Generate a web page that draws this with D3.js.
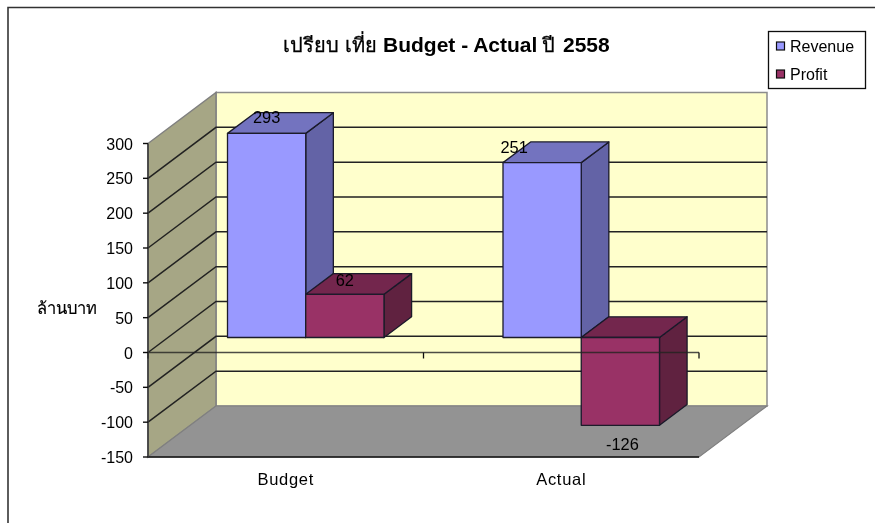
<!DOCTYPE html>
<html>
<head>
<meta charset="utf-8">
<script src="https://cdn.jsdelivr.net/npm/d3@7"></script>
<style>
  html, body { margin: 0; background: #fff; }
  text { font-family: "Liberation Sans", Arial, "Noto Sans", sans-serif; fill: #000; }
</style>
</head>
<body>
<div id="chart"></div>
<script>
const categories = ["Budget", "Actual"];
const seriesNames = ["Revenue", "Profit"];
const revenue = [293, 251];
const profit = [62, -126];
const yTicks = [300, 250, 200, 150, 100, 50, 0, -50, -100, -150];
const titleThaiA = "เปรียบ เที่ย";
const titleLatin = "Budget - Actual";
const titleThaiB = "ปี";
const titleYear = "2558";
const yAxisLabel = "ล้านบาท";

const width = 875, height = 523;

const svg = d3.select("#chart").append("svg")
  .attr("width", width)
  .attr("height", height)
  .style("display", "block");

// picture is a bit soft in the reference
const defs = svg.append("defs");
defs.append("filter").attr("id", "soft")
  .append("feGaussianBlur").attr("stdDeviation", 0.35);

const root = svg.append("g").attr("filter", "url(#soft)");

// Chart frame (only top and left show)
root.append("path")
  .attr("d", "M8,523V7.5H875")
  .attr("fill", "none")
  .attr("stroke", "#333")
  .attr("stroke-width", 1.6);

// Plot box, 3D oblique projection
const x = d3.scaleBand().domain(categories).range([148, 699]).paddingInner(0.432).paddingOuter(0.216);
const xSeries = d3.scaleBand().domain(seriesNames).range([0, x.bandwidth()]);
const y = d3.scaleLinear().domain([-150, 300]).range([457, 143.5]);

const depthX = 68, depthY = 51;
const project = (px, py, d) => [px + d * depthX, py - d * depthY];
const poly = pts => "M" + pts.map(p => p.join(",")).join("L") + "Z";

const x0 = x.range()[0], x1 = x.range()[1];

// walls and floor
root.append("path")
  .attr("d", poly([project(x0, y(300), 1), project(x1, y(300), 1), project(x1, y(-150), 1), project(x0, y(-150), 1)]))
  .attr("fill", "#ffffcc").attr("stroke", "#8c8c8c").attr("stroke-width", 1.5);
root.append("path")
  .attr("d", poly([project(x0, y(300), 0), project(x0, y(300), 1), project(x0, y(-150), 1), project(x0, y(-150), 0)]))
  .attr("fill", "#a6a685").attr("stroke", "#808080").attr("stroke-width", 1.5);
root.append("path")
  .attr("d", poly([project(x0, y(-150), 0), project(x0, y(-150), 1), project(x1, y(-150), 1), project(x1, y(-150), 0)]))
  .attr("fill", "#939393").attr("stroke", "#808080").attr("stroke-width", 1.2);

// gridlines, along side wall then back wall
yTicks.filter(t => t !== 300 && t !== -150).forEach(t => {
  root.append("path")
    .attr("d", "M" + [project(x0, y(t), 0), project(x0, y(t), 1), project(x1, y(t), 1)].map(p => p.join(",")).join("L"))
    .attr("fill", "none")
    .attr("stroke", "#222")
    .attr("stroke-width", 1.5);
});

// Bars
const zeroDepth = 0.294, backDepth = 0.7;
const seriesValues = { Revenue: revenue, Profit: profit };
const seriesColors = {
  Revenue: { front: "#9999ff", top: "#7373bf", side: "#6464a6" },
  Profit: { front: "#993366", top: "#73264d", side: "#60213f" }
};

const bars = [];
categories.forEach((c, i) => {
  seriesNames.forEach(s => bars.push({ category: c, series: s, value: seriesValues[s][i] }));
});

const barG = root.append("g").attr("stroke", "#1a1a2a").attr("stroke-width", 1.3).attr("stroke-linejoin", "round");

bars.forEach(d => {
  const left = x(d.category) + xSeries(d.series);
  const right = left + xSeries.bandwidth();
  const top = y(Math.max(d.value, 0));
  const bottom = y(Math.min(d.value, 0));
  const col = seriesColors[d.series];
  const f = (px, py) => project(px, py, zeroDepth);
  const b = (px, py) => project(px, py, backDepth);

  barG.append("path").attr("d", poly([f(right, top), b(right, top), b(right, bottom), f(right, bottom)])).attr("fill", col.side);
  barG.append("path").attr("d", poly([f(left, top), b(left, top), b(right, top), f(right, top)])).attr("fill", col.top);
  barG.append("path").attr("d", poly([f(left, top), f(right, top), f(right, bottom), f(left, bottom)])).attr("fill", col.front);
});

// category axis sits on the front plane, over the bars
root.append("line")
  .attr("x1", x0).attr("x2", x1)
  .attr("y1", y(0)).attr("y2", y(0))
  .attr("stroke", "#222").attr("stroke-opacity", 0.8).attr("stroke-width", 1.5);
const step = (x1 - x0) / categories.length;
d3.range(categories.length + 1).forEach(i => {
  root.append("line")
    .attr("x1", x0 + i * step).attr("x2", x0 + i * step)
    .attr("y1", y(0)).attr("y2", y(0) + 6)
    .attr("stroke", "#111").attr("stroke-width", 1.3);
});
root.append("line")
  .attr("x1", x0).attr("x2", x1)
  .attr("y1", y(-150)).attr("y2", y(-150))
  .attr("stroke", "#111").attr("stroke-width", 1.6);
root.append("line")
  .attr("x1", x0).attr("x2", x0)
  .attr("y1", y(300)).attr("y2", y(-150))
  .attr("stroke", "#333").attr("stroke-width", 1.5);

// y ticks and labels
yTicks.forEach(t => {
  root.append("line")
    .attr("x1", x0 - 5).attr("x2", x0)
    .attr("y1", y(t)).attr("y2", y(t))
    .attr("stroke", "#111").attr("stroke-width", 1.4);
  root.append("text")
    .attr("x", 133)
    .attr("y", y(t) + 6)
    .attr("text-anchor", "end")
    .attr("font-size", 16)
    .text(t);
});

categories.forEach(c => {
  root.append("text")
    .attr("x", x(c) + x.bandwidth() / 2)
    .attr("y", 485)
    .attr("text-anchor", "middle")
    .attr("font-size", 16.5)
    .attr("letter-spacing", 0.7)
    .text(c);
});

// Data labels, hand-placed in the original so they don't follow one rule
const labelOffsets = {
  "Budget|Revenue": [0, -10.5],
  "Budget|Profit": [0, -8.5],
  "Actual|Revenue": [-28, -9.5],
  "Actual|Profit": [2, 25]
};
bars.forEach(d => {
  const off = labelOffsets[d.category + "|" + d.series];
  const cx = x(d.category) + xSeries(d.series) + xSeries.bandwidth() / 2;
  const p = project(cx, y(d.value), zeroDepth);
  root.append("text")
    .attr("x", p[0] + off[0])
    .attr("y", p[1] + off[1])
    .attr("text-anchor", "middle")
    .attr("font-size", 16.4)
    .text(d.value);
});

// Title
const title = root.append("text")
  .attr("y", 52)
  .attr("font-size", 21)
  .attr("font-weight", "bold");
title.append("tspan").attr("x", 283)
  .attr("font-weight", "normal").attr("font-size", 20)
  .attr("stroke", "#000").attr("stroke-width", 0.3)
  .text(titleThaiA);
title.append("tspan").attr("x", 383).text(titleLatin);
title.append("tspan").attr("x", 542)
  .attr("font-weight", "normal").attr("font-size", 20)
  .attr("stroke", "#000").attr("stroke-width", 0.3)
  .text(titleThaiB);
title.append("tspan").attr("x", 563).text(titleYear);

root.append("text")
  .attr("x", 66.5)
  .attr("y", 314)
  .attr("text-anchor", "middle")
  .attr("font-size", 16.5)
  .attr("stroke", "#000").attr("stroke-width", 0.2)
  .text(yAxisLabel);

// Legend
root.append("rect")
  .attr("x", 768.5).attr("y", 31.5)
  .attr("width", 97).attr("height", 57)
  .attr("fill", "#fff").attr("stroke", "#111").attr("stroke-width", 1.3);
seriesNames.forEach((s, i) => {
  const ly = 46 + i * 28;
  root.append("rect")
    .attr("x", 776.5).attr("y", ly - 4)
    .attr("width", 8).attr("height", 8)
    .attr("fill", seriesColors[s].front)
    .attr("stroke", "#111").attr("stroke-width", 1.2);
  root.append("text")
    .attr("x", 790).attr("y", ly + 6)
    .attr("font-size", 16)
    .text(s);
});
</script>
</body>
</html>
